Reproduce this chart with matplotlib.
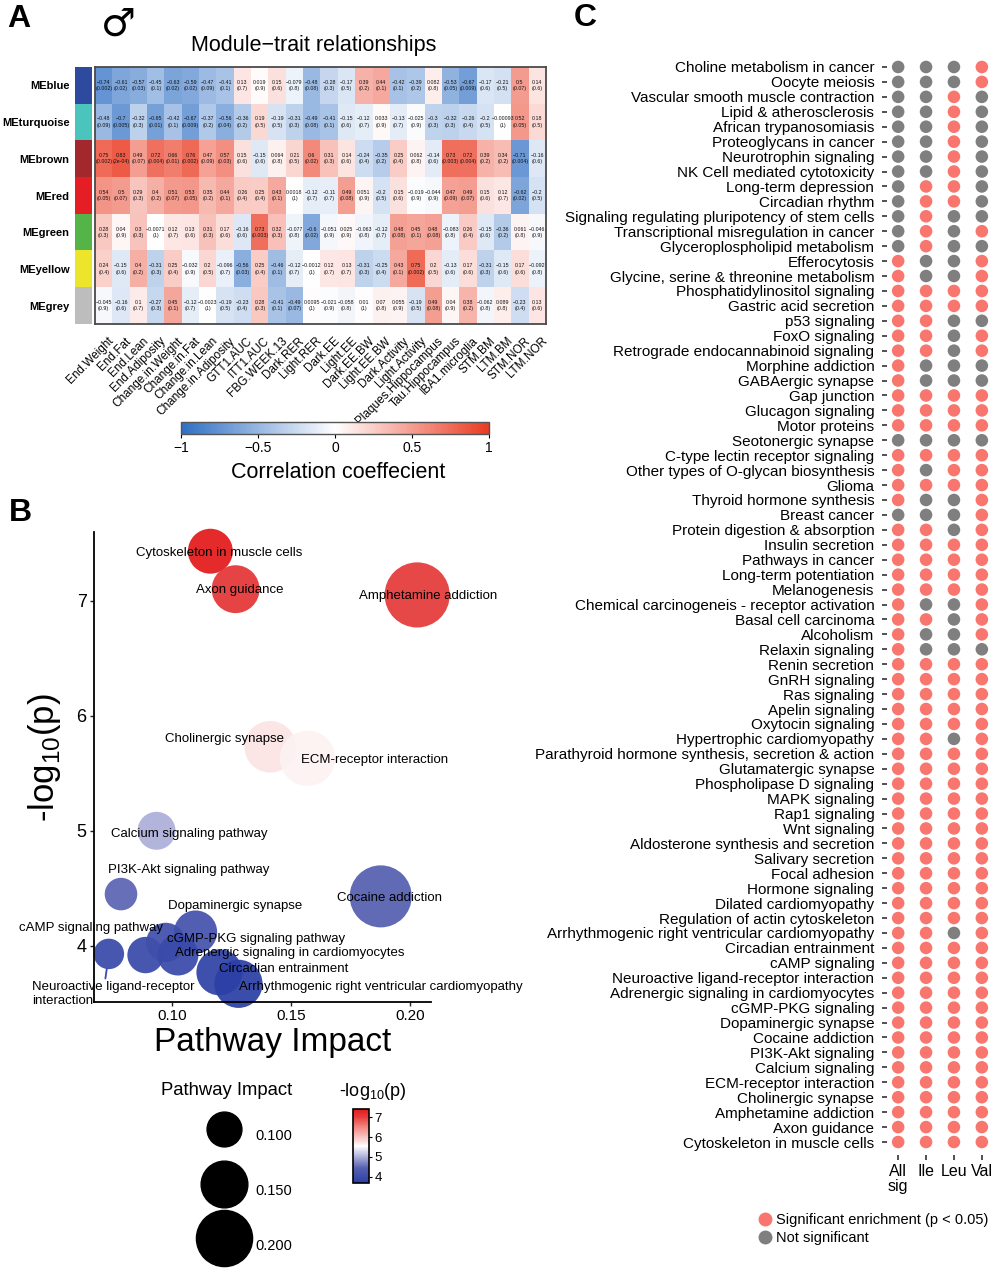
import numpy as np
import matplotlib
matplotlib.use('Agg')
import matplotlib.pyplot as plt
from matplotlib.colors import LinearSegmentedColormap, TwoSlopeNorm, Normalize, ListedColormap
from matplotlib.lines import Line2D
from matplotlib.cm import ScalarMappable
from matplotlib.transforms import blended_transform_factory, offset_copy

plt.rcParams['font.family'] = ['Liberation Sans', 'DejaVu Sans']
plt.rcParams['axes.unicode_minus'] = True

# ---------------- DATA: panel A (module-trait heatmap) ----------------
modules = ['MEblue', 'MEturquoise', 'MEbrown', 'MEred', 'MEgreen', 'MEyellow', 'MEgrey']
module_colors = ['#2E4A9F', '#4CC4BE', '#A3282E', '#E51E25', '#55B447', '#EDE52B', '#BDBDBD']
traits = ['End.Weight', 'End.Fat', 'End.Lean', 'End.Adiposity', 'Change.in.Weight',
          'Change.in.Fat', 'Change.in.Lean', 'Change.in.Adiposity', 'GTT1.AUC', 'ITT1.AUC',
          'FBG.WEEK.13', 'Dark.RER', 'Light.RER', 'Dark.EE', 'Light.EE', 'Dark.EE.BW',
          'Light.EE.BW', 'Dark.Activity', 'Light.Activity', 'Plaques.Hippocampus',
          'Tau.Hippocampus', 'IBA1.microglia', 'STM.BM', 'LTM.BM', 'STM.NOR', 'LTM.NOR']

cor_blue = [-0.74, -0.61, -0.57, -0.45, -0.63, -0.59, -0.47, -0.41, 0.13, 0.019, 0.15, -0.079, -0.48,
            -0.28, -0.17, 0.39, 0.44, -0.42, -0.39, 0.082, -0.53, -0.67, -0.17, -0.21, 0.5, 0.14]
p_blue = [0.002, 0.02, 0.03, 0.1, 0.02, 0.02, 0.09, 0.1, 0.7, 0.9, 0.6, 0.8, 0.08,
          0.3, 0.5, 0.2, 0.1, 0.1, 0.2, 0.8, 0.05, 0.009, 0.6, 0.5, 0.07, 0.6]
cor_turquoise = [-0.48, -0.7, -0.32, -0.65, -0.42, -0.67, -0.37, -0.56, -0.36, 0.19, -0.19, -0.31, -0.49,
                 -0.41, -0.15, -0.12, 0.033, -0.13, -0.025, -0.3, -0.32, -0.26, -0.2, -0.00093, 0.52, 0.18]
p_turquoise = [0.09, 0.005, 0.3, 0.01, 0.1, 0.009, 0.2, 0.04, 0.2, 0.5, 0.5, 0.3, 0.08,
               0.1, 0.6, 0.7, 0.9, 0.7, 0.9, 0.3, 0.3, 0.4, 0.5, 1, 0.05, 0.5]
cor_brown = [0.75, 0.83, 0.49, 0.72, 0.66, 0.76, 0.47, 0.57, 0.15, -0.15, 0.064, 0.21, 0.6,
             0.31, 0.14, -0.24, -0.35, 0.25, 0.062, -0.14, 0.73, 0.72, 0.39, 0.34, -0.71, -0.16]
p_brown = [0.002, 0.0002, 0.07, 0.004, 0.01, 0.002, 0.09, 0.03, 0.6, 0.6, 0.8, 0.5, 0.02,
           0.3, 0.6, 0.4, 0.2, 0.4, 0.8, 0.6, 0.003, 0.004, 0.2, 0.2, 0.004, 0.6]
cor_red = [0.54, 0.5, 0.29, 0.4, 0.51, 0.53, 0.35, 0.44, 0.26, 0.25, 0.43, 0.0018, -0.12,
           -0.11, 0.49, 0.051, -0.2, 0.15, -0.019, -0.044, 0.47, 0.49, 0.15, 0.12, -0.62, -0.2]
p_red = [0.05, 0.07, 0.3, 0.2, 0.07, 0.05, 0.2, 0.1, 0.4, 0.4, 0.1, 1, 0.7,
         0.7, 0.08, 0.9, 0.5, 0.6, 0.9, 0.9, 0.09, 0.07, 0.6, 0.7, 0.02, 0.5]
cor_green = [0.28, 0.04, 0.3, -0.0071, 0.12, 0.13, 0.31, 0.17, -0.16, 0.73, 0.32, -0.077, -0.6,
             -0.051, 0.025, -0.063, -0.12, 0.48, 0.45, 0.48, -0.083, 0.26, -0.15, -0.36, 0.061, -0.046]
p_green = [0.3, 0.9, 0.3, 1, 0.7, 0.6, 0.3, 0.6, 0.6, 0.003, 0.3, 0.8, 0.02,
           0.9, 0.9, 0.8, 0.7, 0.08, 0.1, 0.08, 0.8, 0.4, 0.6, 0.2, 0.8, 0.9]
cor_yellow = [0.24, -0.15, 0.4, -0.31, 0.25, -0.032, 0.2, -0.096, -0.56, 0.25, -0.46, -0.12, -0.0012,
              0.12, 0.13, -0.31, -0.25, 0.43, 0.75, 0.2, -0.13, 0.17, -0.31, -0.15, 0.17, -0.092]
p_yellow = [0.4, 0.6, 0.2, 0.3, 0.4, 0.9, 0.5, 0.7, 0.03, 0.4, 0.1, 0.7, 1,
            0.7, 0.7, 0.3, 0.4, 0.1, 0.002, 0.5, 0.6, 0.6, 0.3, 0.6, 0.6, 0.8]
cor_grey = [-0.045, -0.16, 0.1, -0.27, 0.45, -0.12, -0.0023, -0.19, -0.23, 0.28, -0.41, -0.49, 0.0095,
            -0.021, -0.058, 0.01, 0.07, 0.055, -0.19, 0.49, 0.04, 0.38, -0.062, 0.089, -0.23, 0.13]
p_grey = [0.9, 0.6, 0.7, 0.3, 0.1, 0.7, 1, 0.5, 0.4, 0.3, 0.1, 0.07, 1,
          0.9, 0.8, 1, 0.8, 0.9, 0.5, 0.08, 0.9, 0.2, 0.8, 0.8, 0.4, 0.6]

# ---------------- DATA: panel B (pathway bubble plot) ----------------
b_pathways = ['Cytoskeleton in muscle cells', 'Axon guidance', 'Amphetamine addiction',
              'Cholinergic synapse', 'ECM-receptor interaction', 'Calcium signaling pathway',
              'PI3K-Akt signaling pathway', 'Cocaine addiction', 'Dopaminergic synapse',
              'Neuroactive ligand-receptor\ninteraction', 'cAMP signaling pathway',
              'cGMP-PKG signaling pathway', 'Adrenergic signaling in cardiomyocytes',
              'Circadian entrainment', 'Arrhythmogenic right ventricular cardiomyopathy']
b_impact = [0.1162, 0.1268, 0.2030, 0.1413, 0.1570, 0.0936, 0.0787, 0.1877, 0.1100,
            0.0736, 0.0890, 0.0975, 0.1026, 0.1200, 0.1280]
b_logp = [7.43, 7.10, 7.05, 5.73, 5.63, 5.00, 4.45, 4.43, 4.12,
          3.93, 3.92, 4.03, 3.92, 3.77, 3.67]
size_legend_values = [0.100, 0.150, 0.200]

# ---------------- DATA: panel C (enrichment dot matrix) ----------------
c_pathways = ['Choline metabolism in cancer', 'Oocyte meiosis', 'Vascular smooth muscle contraction',
              'Lipid & atherosclerosis', 'African trypanosomiasis', 'Proteoglycans in cancer',
              'Neurotrophin signaling', 'NK Cell mediated cytotoxicity', 'Long-term depression',
              'Circadian rhythm', 'Signaling regulating pluripotency of stem cells',
              'Transcriptional misregulation in cancer', 'Glyceroplospholipid metabolism',
              'Efferocytosis', 'Glycine, serine & threonine metabolism', 'Phosphatidylinositol signaling',
              'Gastric acid secretion', 'p53 signaling', 'FoxO signaling',
              'Retrograde endocannabinoid signaling', 'Morphine addiction', 'GABAergic synapse',
              'Gap junction', 'Glucagon signaling', 'Motor proteins', 'Seotonergic synapse',
              'C-type lectin receptor signaling', 'Other types of O-glycan biosynthesis', 'Glioma',
              'Thyroid hormone synthesis', 'Breast cancer', 'Protein digestion & absorption',
              'Insulin secretion', 'Pathways in cancer', 'Long-term potentiation', 'Melanogenesis',
              'Chemical carcinogeneis - receptor activation', 'Basal cell carcinoma', 'Alcoholism',
              'Relaxin signaling', 'Renin secretion', 'GnRH signaling', 'Ras signaling',
              'Apelin signaling', 'Oxytocin signaling', 'Hypertrophic cardiomyopathy',
              'Parathyroid hormone synthesis, secretion & action', 'Glutamatergic synapse',
              'Phospholipase D signaling', 'MAPK signaling', 'Rap1 signaling', 'Wnt signaling',
              'Aldosterone synthesis and secretion', 'Salivary secretion', 'Focal adhesion',
              'Hormone signaling', 'Dilated cardiomyopathy', 'Regulation of actin cytoskeleton',
              'Arrhythmogenic right ventricular cardiomyopathy', 'Circadian entrainment',
              'cAMP signaling', 'Neuroactive ligand-receptor interaction',
              'Adrenergic signaling in cardiomyocytes', 'cGMP-PKG signaling', 'Dopaminergic synapse',
              'Cocaine addiction', 'PI3K-Akt signaling', 'Calcium signaling',
              'ECM-receptor interaction', 'Cholinergic synapse', 'Amphetamine addiction',
              'Axon guidance', 'Cytoskeleton in muscle cells']
c_conditions = ['All\nsig', 'Ile', 'Leu', 'Val']
sig_all = [0, 0, 0, 0, 0, 0, 0, 0, 0, 0,
           0, 0, 0, 1, 1, 1, 1, 1, 1, 1,
           1, 1, 1, 1, 1, 0, 1, 1, 1, 1,
           0, 1, 1, 1, 1, 1, 1, 1, 1, 1,
           1, 1, 1, 1, 1, 1, 1, 1, 1, 1,
           1, 1, 1, 1, 1, 1, 1, 1, 1, 1,
           1, 1, 1, 1, 1, 1, 1, 1, 1, 1,
           1, 1, 1]
sig_ile = [0, 0, 0, 0, 0, 0, 0, 0, 1, 1,
           1, 1, 1, 0, 0, 1, 1, 1, 1, 1,
           0, 0, 1, 1, 1, 0, 1, 0, 1, 0,
           0, 1, 1, 1, 1, 1, 0, 1, 0, 0,
           1, 1, 1, 1, 1, 1, 1, 1, 1, 1,
           1, 1, 1, 1, 1, 1, 1, 1, 1, 1,
           1, 1, 1, 1, 1, 1, 1, 1, 1, 1,
           1, 1, 1]
sig_leu = [0, 0, 1, 1, 1, 1, 1, 1, 1, 1,
           0, 0, 0, 0, 0, 1, 1, 0, 0, 0,
           0, 0, 1, 1, 1, 0, 1, 1, 1, 0,
           0, 0, 1, 1, 1, 1, 0, 0, 0, 0,
           1, 1, 1, 1, 1, 0, 1, 1, 1, 1,
           1, 1, 1, 1, 1, 1, 1, 1, 0, 1,
           1, 1, 1, 1, 1, 1, 1, 1, 1, 1,
           1, 1, 1]
sig_val = [1, 1, 0, 0, 0, 0, 0, 0, 0, 0,
           0, 1, 0, 1, 1, 1, 1, 0, 1, 1,
           0, 0, 1, 1, 1, 0, 1, 1, 1, 1,
           1, 1, 1, 1, 1, 1, 1, 1, 1, 0,
           1, 1, 1, 1, 1, 1, 1, 1, 1, 1,
           1, 1, 1, 1, 1, 1, 1, 1, 1, 1,
           1, 1, 1, 1, 1, 1, 1, 1, 1, 1,
           1, 1, 1]

# ---------------- figure ----------------
W, H = 995, 1280
fig = plt.figure(figsize=(W / 100, H / 100), dpi=100)


def rect(l, t, r, b):
    return [l / W, 1 - b / H, (r - l) / W, (b - t) / H]


def fx(px):
    return px / W


def fy(py):
    return 1 - py / H


# ======== Panel A ========
corr = np.array([cor_blue, cor_turquoise, cor_brown, cor_red, cor_green, cor_yellow, cor_grey])
pv = np.array([p_blue, p_turquoise, p_brown, p_red, p_green, p_yellow, p_grey])
cmap_hm = LinearSegmentedColormap.from_list('bwr_wgcna', ['#2F6FC4', '#FFFFFF', '#EA3B22'])


def fmt_r(v):
    return f"{v:.2g}".replace('-', '\u2212')


def fmt_p(p):
    if p < 1e-3:
        return f"{p:.0e}"
    return f"{p:.1g}"


ax_hm = fig.add_axes(rect(95, 67, 546, 324))
ax_hm.imshow(corr, cmap=cmap_hm, vmin=-1, vmax=1, aspect='auto', interpolation='nearest')
for i in range(corr.shape[0]):
    for j in range(corr.shape[1]):
        ax_hm.text(j, i, f"{fmt_r(corr[i, j])}\n({fmt_p(pv[i, j])})", ha='center', va='center',
                   fontsize=3.8, linespacing=1.35, color='#111111')
ax_hm.set_xticks([])
ax_hm.set_yticks([])
for sp in ax_hm.spines.values():
    sp.set_color('#4a4a4a')
    sp.set_linewidth(1.3)
lab_tr = offset_copy(blended_transform_factory(ax_hm.transData, ax_hm.transAxes),
                     fig=fig, x=4, y=-11, units='dots')
for j, t in enumerate(traits):
    ax_hm.text(j, 0, t, transform=lab_tr, rotation=45, ha='right', va='top',
               rotation_mode='anchor', fontsize=8.5)

ax_mod = fig.add_axes(rect(75, 67, 92, 324))
ax_mod.imshow(np.arange(len(modules)).reshape(-1, 1), cmap=ListedColormap(module_colors),
              aspect='auto', interpolation='nearest')
ax_mod.set_xticks([])
ax_mod.set_yticks(range(len(modules)))
ax_mod.set_yticklabels(modules, fontsize=8, fontweight='bold')
ax_mod.tick_params(axis='y', length=0, pad=4)
for sp in ax_mod.spines.values():
    sp.set_visible(False)

fig.text(fx(314), fy(46), 'Module\u2212trait relationships', fontsize=15.5, ha='center', va='center')
fig.text(fx(118), fy(25), '\u2642', fontsize=28, family='DejaVu Sans', ha='center', va='center')

cax_a = fig.add_axes(rect(181, 422, 489, 434))
cb_a = fig.colorbar(ScalarMappable(norm=Normalize(-1, 1), cmap=cmap_hm), cax=cax_a,
                    orientation='horizontal', ticks=[-1, -0.5, 0, 0.5, 1])
cb_a.ax.set_xticklabels(['\u22121', '\u22120.5', '0', '0.5', '1'])
cb_a.ax.tick_params(labelsize=10, length=3, width=0.8, pad=2)
cb_a.outline.set_edgecolor('#555555')
cb_a.outline.set_linewidth(1)
fig.text(fx(338), fy(473), 'Correlation coeffecient', fontsize=15.5, ha='center', va='center')

# ======== Panel B ========
imp = np.array(b_impact)
lp = np.array(b_logp)


def bubble_s(x):
    r_px = np.sqrt(6400 * (np.asarray(x) - 0.0373))
    return (2 * r_px * 0.72) ** 2


cmap_b = LinearSegmentedColormap.from_list(
    'bwr_b', [(0.0, '#2B3FA5'), (0.2, '#5560B0'), (0.355, '#AEB0DA'), (0.5, '#FFFFFF'),
              (0.55, '#FBE3E3'), (0.75, '#F28A85'), (0.9, '#E53A3A'), (1.0, '#E41A1C')])
norm_b = TwoSlopeNorm(vmin=lp.min(), vcenter=(lp.min() + lp.max()) / 2, vmax=lp.max())

ax_b = fig.add_axes(rect(93.6, 532, 431, 1002))
ax_b.set_xlim(0.0672, 0.2088)
ax_b.set_ylim(3.512, 7.597)
ax_b.scatter(imp, lp, s=bubble_s(imp), c=lp, cmap=cmap_b, norm=norm_b, alpha=0.93,
             edgecolors='none', zorder=2, clip_on=False)

label_xy = [(0.1199, 7.417), (0.1285, 7.093), (0.2075, 7.044), (0.1221, 5.801), (0.1851, 5.614),
            (0.1075, 4.968), (0.1072, 4.658), (0.1912, 4.418), (0.1264, 4.344), (0.0413, 3.582),
            (0.0661, 4.155), (0.1352, 4.062), (0.1497, 3.937), (0.1469, 3.797), (0.1877, 3.645)]
for k, name in enumerate(b_pathways):
    lx, ly = label_xy[k]
    if '\n' in name:
        r_pt = np.sqrt(bubble_s(imp[k])) / 2
        ax_b.annotate(name, xy=(imp[k], lp[k]), xytext=(lx, ly), ha='left', va='center',
                      fontsize=9.5, zorder=3, annotation_clip=False, linespacing=1.15,
                      arrowprops=dict(arrowstyle='-', color=cmap_b(norm_b(lp[k])), lw=1.3,
                                      shrinkA=0, shrinkB=r_pt, relpos=(0.45, 1.0)))
    else:
        ax_b.text(lx, ly, name, ha='center', va='center', fontsize=9.5, zorder=3, clip_on=False)

ax_b.set_xticks([0.10, 0.15, 0.20])
ax_b.set_xticklabels(['0.10', '0.15', '0.20'], fontsize=11)
ax_b.set_yticks([4, 5, 6, 7])
ax_b.set_yticklabels(['4', '5', '6', '7'], fontsize=13)
ax_b.tick_params(length=3, width=1, color='#222222', pad=2)
for s in ['top', 'right']:
    ax_b.spines[s].set_visible(False)
for s in ['left', 'bottom']:
    ax_b.spines[s].set_linewidth(1.3)
ax_b.set_xlabel('Pathway Impact', fontsize=24)
ax_b.xaxis.set_label_coords(0.53, -0.053)
ax_b.set_ylabel('-log$_{\\mathregular{10}}$(p)', fontsize=25)
ax_b.yaxis.set_label_coords(-0.092, 0.52)

# size legend
size_handles = [Line2D([], [], marker='o', ls='', color='black',
                       markersize=0.87 * np.sqrt(bubble_s(v))) for v in size_legend_values]
fig.legend(size_handles, [f"{v:.3f}" for v in size_legend_values], title='Pathway Impact',
           loc='upper right', bbox_to_anchor=(fx(292), fy(1082)), frameon=False, fontsize=10.5,
           title_fontsize=13.3, handlelength=3.2, handleheight=3.4, labelspacing=1.3,
           handletextpad=0.5, borderpad=0, borderaxespad=0, alignment='right')

# colour legend
cax_b = fig.add_axes(rect(353, 1109, 369, 1183))
cb_b = fig.colorbar(ScalarMappable(norm=norm_b, cmap=cmap_b), cax=cax_b, ticks=[4, 5, 6, 7])
cb_b.ax.tick_params(labelsize=9.5, length=2, width=0.8, pad=2)
cb_b.outline.set_edgecolor('black')
cb_b.outline.set_linewidth(1.2)
fig.text(fx(373), fy(1092), '-log$_{\\mathregular{10}}$(p)', fontsize=13, ha='center', va='center')

# ======== Panel C ========
RED = '#F8766D'
GREY = '#7F7F7F'
ax_c = fig.add_axes(rect(887, 54, 993, 1155))
rows = np.arange(len(c_pathways))
for k, sig in enumerate([sig_all, sig_ile, sig_leu, sig_val]):
    cols = [RED if v else GREY for v in sig]
    ax_c.scatter(np.full(len(rows), k), rows, s=82, c=cols, edgecolors='none', clip_on=False)
ax_c.set_xlim(-0.4, 3.4)
ax_c.set_ylim(len(c_pathways) - 1 + 0.87, -0.87)
ax_c.set_yticks(rows)
ax_c.set_yticklabels(c_pathways, fontsize=11)
ax_c.set_xticks(range(len(c_conditions)))
ax_c.set_xticklabels(c_conditions, fontsize=11.5, linespacing=0.95)
ax_c.tick_params(axis='y', length=3.6, width=1.2, color='#333333', pad=5.5)
ax_c.tick_params(axis='x', length=3.6, width=1.2, color='#333333', pad=3)
for sp in ax_c.spines.values():
    sp.set_visible(False)
c_handles = [Line2D([], [], marker='o', ls='', color=RED, markersize=9),
             Line2D([], [], marker='o', ls='', color=GREY, markersize=9)]
fig.legend(c_handles, ['Significant enrichment (p < 0.05)', 'Not significant'], loc='upper left',
           bbox_to_anchor=(fx(759), fy(1213)), frameon=False, fontsize=10.5, handlelength=0.8,
           handletextpad=0.4, labelspacing=0.25, borderpad=0, borderaxespad=0)

# panel letters
fig.text(fx(7), fy(19), 'A', fontsize=23, fontweight='bold', va='center', ha='left')
fig.text(fx(9), fy(513), 'B', fontsize=23, fontweight='bold', va='center', ha='left')
fig.text(fx(574), fy(18), 'C', fontsize=23, fontweight='bold', va='center', ha='left')

fig.savefig('out.png', dpi=100)
